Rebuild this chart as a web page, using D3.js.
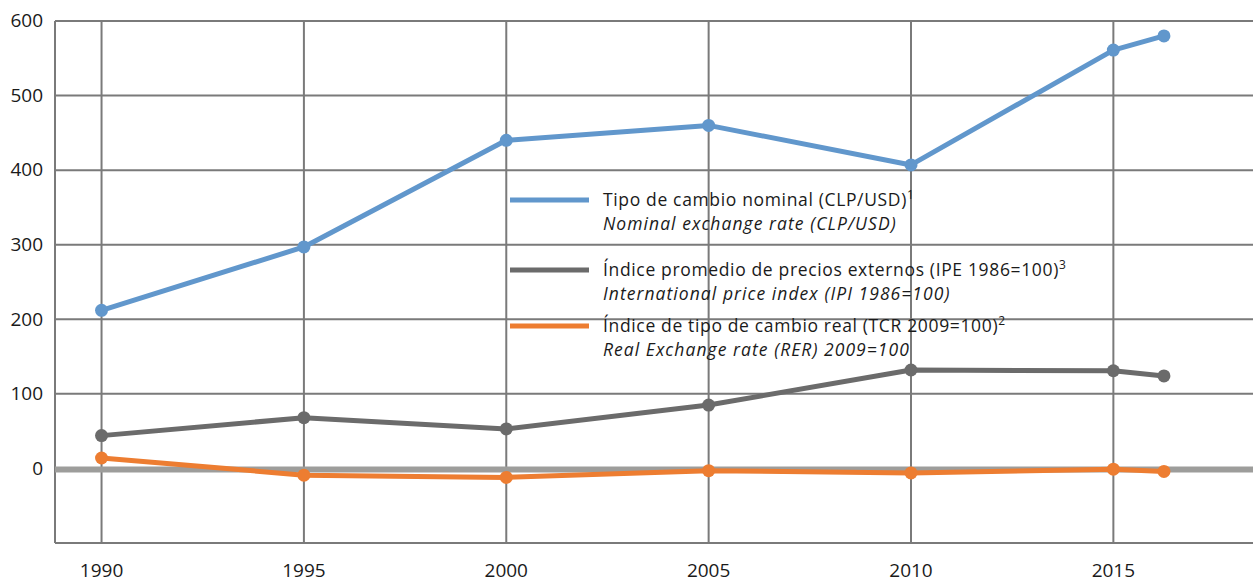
<!DOCTYPE html>
<html>
<head>
<meta charset="utf-8">
<script src="https://cdn.jsdelivr.net/npm/d3@7"></script>
<style>
  body { margin: 0; background: #fff; }
  text { font-family: "Open Sans", "Noto Sans", sans-serif; fill: #1a1a1a; }
</style>
</head>
<body>
<div id="chart"></div>
<script>
// data
let years = [1990, 1995, 2000, 2005, 2010, 2015, 2016.25];
let nominal = [212, 297, 440, 460, 407, 561, 580];
let ipe = [44, 68, 53, 85, 132, 131, 124];
let tcr = [14, -9, -12, -3, -6, -1, -4];
let yTicks = [0, 100, 200, 300, 400, 500, 600];
let xTicks = [1990, 1995, 2000, 2005, 2010, 2015];

let series = [
    { name: "Tipo de cambio nominal (CLP/USD)", sup: "1", sub: "Nominal exchange rate (CLP/USD)", values: nominal, color: "#6197cc" },
    { name: "Índice promedio de precios externos (IPE 1986=100)", sup: "3", sub: "International price index (IPI 1986=100)", values: ipe, color: "#6b6b6b" },
    { name: "Índice de tipo de cambio real (TCR 2009=100)", sup: "2", sub: "Real Exchange rate (RER) 2009=100", values: tcr, color: "#ed7d31" }
];

const width = 1253, height = 583;
const margin = { top: 21, right: 0, bottom: 40, left: 55 };

let svg = d3.select("#chart")
    .append("svg")
    .attr("width", width)
    .attr("height", height);

// scales
let x = d3.scaleLinear()
    .domain([1988.85, 2018.45])
    .range([margin.left, width - margin.right]);

let y = d3.scaleLinear()
    .domain([-100, 600])
    .range([height - margin.bottom, margin.top]);

let grid = svg.append("g")
    .attr("stroke", "#7a7a7a")
    .attr("stroke-width", 2);

// horizontal gridlines (plus the bottom frame)
grid.selectAll(".hg")
    .data(yTicks.concat([-100]))
    .enter()
    .append("line")
    .attr("x1", x.range()[0])
    .attr("x2", x.range()[1])
    .attr("y1", d => y(d))
    .attr("y2", d => y(d));

// vertical gridlines (plus the left frame)
grid.selectAll(".vg")
    .data(xTicks.concat([x.domain()[0]]))
    .enter()
    .append("line")
    .attr("x1", d => x(d))
    .attr("x2", d => x(d))
    .attr("y1", y(600))
    .attr("y2", y(-100));

// thick zero line
svg.append("line")
    .attr("x1", x.range()[0])
    .attr("x2", x.range()[1])
    .attr("y1", y(0) + 1)
    .attr("y2", y(0) + 1)
    .attr("stroke", "#9d9d9b")
    .attr("stroke-width", 6);

// y tick labels
svg.append("g")
    .selectAll("text")
    .data(yTicks)
    .enter()
    .append("text")
    .attr("x", 43)
    .attr("y", d => y(d))
    .attr("dy", "0.33em")
    .style("text-anchor", "end")
    .style("font-size", "19px")
    .text(d => d);

// x tick labels
svg.append("g")
    .selectAll("text")
    .data(xTicks)
    .enter()
    .append("text")
    .attr("x", d => x(d))
    .attr("y", 577)
    .style("text-anchor", "middle")
    .style("font-size", "19px")
    .text(d => d);

// series lines and dots
let line = d3.line()
    .x((d, i) => x(years[i]))
    .y(d => y(d));

series.forEach(s => {
    svg.append("path")
        .datum(s.values)
        .attr("fill", "none")
        .attr("stroke", s.color)
        .attr("stroke-width", 5)
        .attr("stroke-linejoin", "round")
        .attr("d", line);

    svg.append("g")
        .selectAll("circle")
        .data(s.values)
        .enter()
        .append("circle")
        .attr("cx", (d, i) => x(years[i]))
        .attr("cy", d => y(d))
        .attr("r", 6.5)
        .attr("fill", s.color);
});

// legend, no background box
let legendY = [200, 270, 326];
let legend = svg.append("g");

series.forEach((s, i) => {
    let g = legend.append("g").attr("transform", `translate(510, ${legendY[i]})`);
    g.append("line")
        .attr("x1", 0)
        .attr("x2", 79)
        .attr("stroke", s.color)
        .attr("stroke-width", 5);
    let t = g.append("text")
        .attr("x", 93)
        .attr("y", 6)
        .style("font-size", "17.5px")
        .style("letter-spacing", "0.65px");
    t.append("tspan").text(s.name);
    t.append("tspan")
        .attr("dy", -7)
        .style("font-size", "12px")
        .text(s.sup);
    g.append("text")
        .attr("x", 93)
        .attr("y", 30)
        .style("font-size", "17.5px")
        .style("letter-spacing", "1.05px")
        .style("font-style", "italic")
        .text(s.sub);
});
</script>
</body>
</html>
